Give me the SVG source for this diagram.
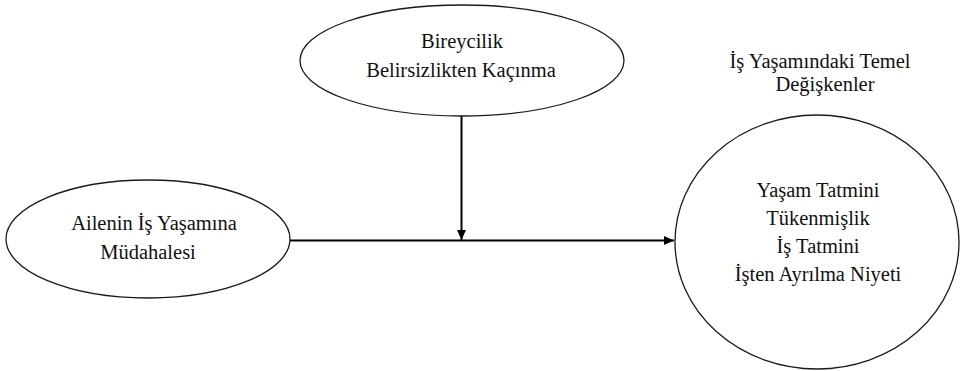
<svg xmlns="http://www.w3.org/2000/svg" width="961" height="371" viewBox="0 0 961 371">
<defs>
<style>
.node{fill:#fff;stroke:#1a1a1a;stroke-width:1.3}
.t{font-family:"Liberation Serif","Times New Roman",serif;font-size:20.5px;fill:#111;text-anchor:middle}
.edge{stroke:#000;stroke-width:2;fill:none}
</style>
<marker id="arr" viewBox="0 0 10 10" refX="10" refY="5" markerWidth="10" markerHeight="10" markerUnits="userSpaceOnUse" orient="auto">
<path d="M0,0.5 L10,5 L0,9.5 Z" fill="#000"/>
</marker>
</defs>
<rect width="961" height="371" fill="#fff"/>
<g id="connectors">
<line class="edge" x1="461.5" y1="116" x2="461.5" y2="240" marker-end="url(#arr)"/>
<line class="edge" x1="290" y1="240.5" x2="674" y2="240.5" marker-end="url(#arr)"/>
</g>
<g id="node-moderator">
<ellipse class="node" cx="462" cy="60.5" rx="162" ry="55.5"/>
<text class="t" x="462" y="48">Bireycilik</text>
<text class="t" x="461" y="77">Belirsizlikten Kaçınma</text>
</g>
<g id="node-independent">
<ellipse class="node" cx="148" cy="239" rx="142" ry="59"/>
<text class="t" x="154" y="230">Ailenin İş Yaşamına</text>
<text class="t" x="148" y="259">Müdahalesi</text>
</g>
<g id="node-dependent">
<text class="t" x="820" y="68">İş Yaşamındaki Temel</text>
<text class="t" x="825" y="91">Değişkenler</text>
<ellipse class="node" cx="817" cy="242" rx="142" ry="127"/>
<text class="t" x="818" y="197">Yaşam Tatmini</text>
<text class="t" x="818" y="225">Tükenmişlik</text>
<text class="t" x="818" y="253">İş Tatmini</text>
<text class="t" x="818" y="281">İşten Ayrılma Niyeti</text>
</g>
</svg>
